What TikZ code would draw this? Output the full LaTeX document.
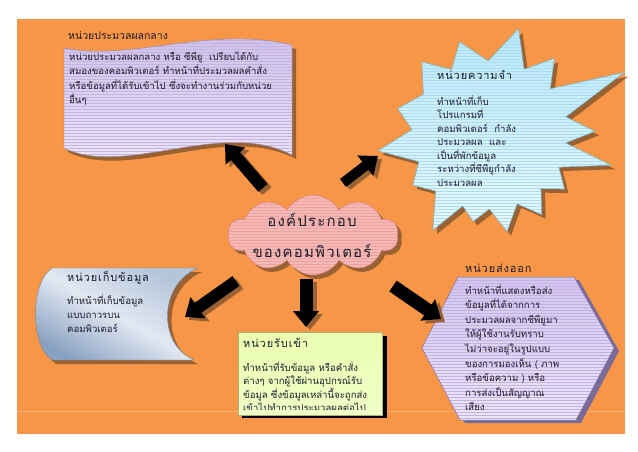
\documentclass[tikz,border=0pt]{standalone}
\usepackage{fontspec}
\setmainfont{Liberation Sans}
\newfontfamily\thai[Script=Thai]{Loma}
\newfontfamily\thaisp[Script=Thai,LetterSpace=8]{Loma}
\usetikzlibrary{shapes.symbols,arrows.meta,shadows}
\definecolor{bgorange}{HTML}{F79646}
\definecolor{shbrown}{HTML}{9A6232}
\definecolor{txt}{HTML}{1C1C2C}
\definecolor{docTop}{HTML}{CDBDEB}
\definecolor{docBot}{HTML}{F0EAFA}
\definecolor{docLine}{HTML}{C2B4DE}
\definecolor{starTop}{HTML}{B8E8F8}
\definecolor{starBot}{HTML}{E8F9FF}
\definecolor{starLine}{HTML}{AEDCEE}
\definecolor{starEdge}{HTML}{6FB4CC}
\definecolor{cloudFill}{HTML}{F5B8B4}
\definecolor{cloudLine}{HTML}{EBA4A2}
\definecolor{cloudEdge}{HTML}{D98080}
\definecolor{hexTop}{HTML}{D3C4F0}
\definecolor{hexBot}{HTML}{ECE6FA}
\definecolor{hexLine}{HTML}{C2B2E2}
\definecolor{hexEdge}{HTML}{7F6FB2}
\definecolor{hexShadow}{HTML}{7A6A96}
\definecolor{stoLight}{HTML}{E2E8F2}
\definecolor{stoMid}{HTML}{B4C4DA}
\definecolor{stoDark}{HTML}{8AA2C2}
\definecolor{inFill}{HTML}{EAFFB0}
\tikzset{
  stripes/.style={path picture={\foreach \yy in {0,3,...,240}{\draw[#1,line width=0.4pt]([yshift=-\yy pt]path picture bounding box.north west)--([yshift=-\yy pt]path picture bounding box.north east);}}},
  brownshadow/.style={drop shadow={shadow xshift=4pt,shadow yshift=-4pt,fill=shbrown,opacity=1}},
  body/.style={font=\thai\fontsize{9.6}{#1}\selectfont,text=txt,align=left,anchor=base west,inner sep=0pt},
  titletext/.style={font=\thaisp\fontsize{11}{13}\selectfont,text=txt,align=left,anchor=base west,inner sep=0pt},
  blockarrow/.style={line width=12pt,-{Triangle[width=25pt,length=16pt]},#1},
}
\begin{document}
\begin{tikzpicture}[x=1pt,y=-1pt]
\useasboundingbox (0,0) rectangle (638,451);
\fill[white] (0,0) rectangle (638,451);
\fill[bgorange] (17,19) rectangle (625,434);
\draw[bgorange!75!white,line width=0.6pt] (17,411) -- (625,411);

% central processing unit (wave document)
\path[brownshadow,top color=docTop,bottom color=docBot,draw=docTop!70!black,line width=0.4pt,stripes=docLine]
  (64,48) .. controls (130,62) and (210,25) .. (292,45) -- (292,155)
  .. controls (222,118) and (125,178) .. (64,148) -- cycle;
\node[font=\thai\fontsize{10.5}{13}\selectfont,text=txt,anchor=base west,inner sep=0pt] (cputitle) at (68,39) {หน่วยประมวลผลกลาง};
\node[body=14.4] (cputext) at (69,103.7) {หน่วยประมวลผลกลาง หรือ ซีพียู\ \ เปรียบได้กับ\\สมองของคอมพิวเตอร์ ทำหน้าที่ประมวลผลคำสั่ง\\หรือข้อมูลที่ได้รับเข้าไป ซึ่งจะทำงานร่วมกับหน่วย\\อื่นๆ};

% memory (star)
\path[brownshadow,top color=starTop,bottom color=starBot,draw=starEdge,line width=0.5pt,stripes=starLine,shift={(490,135)}]
  (-25:148) -- (-13.5:78) -- (-2:105) -- (6:76) -- (14:125) -- (25:76) -- (36:92) -- (46.5:74)
  -- (57:95) -- (68.5:74) -- (80:98) -- (90.5:74) -- (101:88) -- (111:76) -- (121:111) -- (134:78)
  -- (147:92) -- (159.5:76) -- (172:113) -- (184:78) -- (196:96) -- (211.5:78) -- (227:100)
  -- (239.5:76) -- (252:98) -- (268.5:74) -- (285:110) -- (297.5:74) -- (310:100) -- (322.5:76) -- cycle;
\node[titletext] (memtitle) at (437,79) {หน่วยความจำ};
\node[body=13.5] (memtext) at (437,186) {ทำหน้าที่เก็บ\\โปรแกรมที่\\คอมพิวเตอร์\ \ กำลัง\\ประมวลผล\ \ และ\\เป็นที่พักข้อมูล\\ระหว่างที่ซีพียูกำลัง\\ประมวลผล};

% storage
\path[brownshadow,shading=axis,left color=stoMid,right color=stoDark,middle color=stoLight,shading angle=-30,draw=stoDark!80!black,line width=0.4pt]
  (52,268) -- (198,268) .. controls (158,285) and (158,345) .. (194,360) -- (52,360)
  .. controls (30,345) and (30,283) .. (52,268) -- cycle;
\node[titletext] (stotitle) at (67,281) {หน่วยเก็บข้อมูล};
\node[body=14] (stotext) at (67,332) {ทำหน้าที่เก็บข้อมูล\\แบบถาวรบน\\คอมพิวเตอร์};

% input (rectangle)
\fill[black] (242,336) rectangle (387,418);
\node[draw=inFill!70!black,line width=0.3pt,top color=inFill,bottom color=inFill!70!white,minimum width=144pt,minimum height=83pt,anchor=north west,inner sep=0pt] (inbox) at (238,332) {};
\node[titletext] (intitle) at (243,347) {หน่วยรับเข้า};
\begin{scope}
\clip (238,332) rectangle (382,409);
\node[body=13.5] (intext) at (243,411.5) {ทำหน้าที่รับข้อมูล หรือคำสั่ง\\ต่างๆ จากผู้ใช้ผ่านอุปกรณ์รับ\\ข้อมูล ซึ่งข้อมูลเหล่านี้จะถูกส่ง\\เข้าไปทำการประมวลผลต่อไป};
\end{scope}

% output (hexagon)
\path[drop shadow={shadow xshift=5pt,shadow yshift=-3pt,fill=hexShadow,opacity=1},top color=hexTop,bottom color=hexBot,draw=hexEdge,line width=0.5pt,stripes=hexLine]
  (458,277) -- (574,277) -- (614,348) -- (576,420) -- (460,420) -- (422,348) -- cycle;
\node[titletext] (outtitle) at (465,272) {หน่วยส่งออก};
\node[body=14.6] (outtext) at (465,410.8) {ทำหน้าที่แสดงหรือส่ง\\ข้อมูลที่ได้จากการ\\ประมวลผลจากซีพียูมา\\ให้ผู้ใช้งานรับทราบ\\ไม่ว่าจะอยู่ในรูปแบบ\\ของการมองเห็น ( ภาพ\\หรือข้อความ ) หรือ\\การส่งเป็นสัญญาณ\\เสียง};

% centre cloud
\node[cloud,cloud puffs=10,cloud puff arc=120,aspect=2.2,minimum width=170pt,minimum height=80pt,inner sep=0pt,
  brownshadow,fill=cloudFill,draw=cloudEdge,line width=0.5pt,stripes=cloudLine] (core) at (313,235) {};
\node[font=\thaisp\fontsize{15}{31}\selectfont,text=txt,align=center,anchor=base,inner sep=0pt] (coretext) at (312,257) {องค์ประกอบ\\ของคอมพิวเตอร์};

% arrows
\coordinate (a1s) at (263,188); \coordinate (a1e) at (225,144);
\coordinate (a2s) at (343,183); \coordinate (a2e) at (378,156);
\coordinate (a3s) at (236,281); \coordinate (a3e) at (185,317);
\coordinate (a4s) at (306,279); \coordinate (a4e) at (306,327);
\coordinate (a5s) at (393,286); \coordinate (a5e) at (441,319);
\foreach \s/\e/\w in {a1s/a1e/12,a2s/a2e/10,a3s/a3e/12,a4s/a4e/13,a5s/a5e/13}{
  \draw[blockarrow=shbrown,line width=\w pt,transform canvas={xshift=4pt,yshift=-3pt}] (\s) -- (\e);
  \draw[blockarrow=black,line width=\w pt] (\s) -- (\e);
}
\end{tikzpicture}
\end{document}
